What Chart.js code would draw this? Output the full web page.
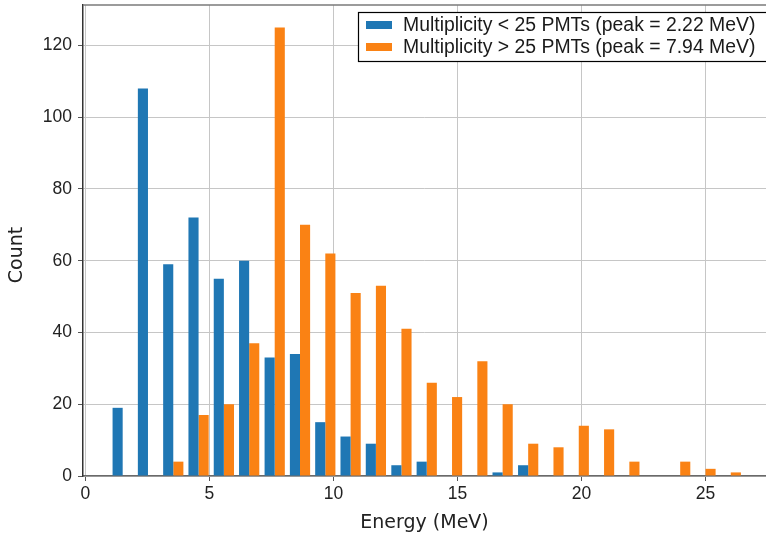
<!DOCTYPE html>
<html>
<head>
<meta charset="utf-8">
<title>Energy spectrum by multiplicity</title>
<script src="https://cdn.jsdelivr.net/npm/chart.js@4/dist/chart.umd.min.js"></script>
<style>
  html, body { margin: 0; padding: 0; background: #fff; overflow: hidden; }
  canvas { display: block; }
</style>
</head>
<body>
<canvas id="myChart" width="766" height="537"></canvas>
<script>
// histogram bins (MeV) and counts per bin
const binCenters = [1.50, 2.52, 3.54, 4.56, 5.58, 6.60, 7.63, 8.65, 9.67, 10.69, 11.71, 12.74,
  13.76, 14.78, 15.80, 16.82, 17.85, 18.87, 19.89, 20.91, 21.93, 22.95, 23.98, 25.00, 26.02];
const lowMultCounts = [19, 108, 59, 72, 55, 60, 33, 34, 15, 11, 9, 3, 4, 0, 0, 1, 3, 0, 0, 0, 0, 0, 0, 0, 0];
const highMultCounts = [0, 0, 4, 17, 20, 37, 125, 70, 62, 51, 53, 41, 26, 22, 32, 20, 9, 8, 14, 13, 4, 0, 4, 2, 1];
const seriesLabels = [
  "Multiplicity < 25 PMTs (peak = 2.22 MeV)",
  "Multiplicity > 25 PMTs (peak = 7.94 MeV)",
];
const xTitle = "Energy (MeV)";
const yTitle = "Count";

const tickFont = { family: "'Liberation Sans', Arial, sans-serif", size: 17.5 };
const titleFont = { family: "'DejaVu Sans', sans-serif", size: 19, lineHeight: 1.2 };

// top spine, y title and the boxed legend in the top right corner
const boxLegend = {
  id: "boxLegend",
  afterDraw(chart) {
    const ctx = chart.ctx;
    const area = chart.chartArea;
    ctx.save();
    ctx.strokeStyle = "#7a7a7a";
    ctx.lineWidth = 1.5;
    ctx.beginPath();
    ctx.moveTo(area.left, area.top);
    ctx.lineTo(area.right, area.top);
    ctx.stroke();

    ctx.save();
    ctx.translate(17, 255);
    ctx.rotate(-Math.PI / 2);
    ctx.font = "19px 'DejaVu Sans', sans-serif";
    ctx.fillStyle = "#222";
    ctx.textAlign = "center";
    ctx.textBaseline = "middle";
    ctx.fillText(yTitle, 0, 0);
    ctx.restore();

    const x = 358, y = 12, w = 420, h = 49;
    ctx.fillStyle = "#fff";
    ctx.fillRect(x, y, w, h);
    ctx.strokeStyle = "#000";
    ctx.lineWidth = 1.2;
    ctx.strokeRect(x + 0.5, y + 0.5, w, h);
    ctx.font = "19.4px 'Liberation Sans', Arial, sans-serif";
    ctx.textBaseline = "middle";
    chart.data.datasets.forEach((ds, i) => {
      const rowY = y + 13 + i * 22;
      ctx.fillStyle = ds.backgroundColor;
      ctx.fillRect(x + 8, rowY - 4, 26, 8);
      ctx.fillStyle = "#1a1a1a";
      ctx.fillText(ds.label, x + 45, rowY + 1);
    });
    ctx.restore();
  },
};

const ctx = document.getElementById("myChart").getContext("2d");
const myChart = new Chart(ctx, {
  type: "bar",
  data: {
    labels: binCenters,
    datasets: [
      {
        label: seriesLabels[0],
        data: lowMultCounts,
        backgroundColor: "#1f77b4",
        borderWidth: 0,
        categoryPercentage: 0.8,
        barPercentage: 1.0,
      },
      {
        label: seriesLabels[1],
        data: highMultCounts,
        backgroundColor: "#fa8214",
        borderWidth: 0,
        categoryPercentage: 0.8,
        barPercentage: 1.0,
      },
    ],
  },
  options: {
    responsive: false,
    animation: false,
    layout: { padding: { left: 0, top: 5, right: 0, bottom: 0 } },
    plugins: {
      legend: { display: false },
      tooltip: { enabled: false },
    },
    scales: {
      x: {
        type: "linear",
        min: -0.1,
        max: 27.44,
        offset: false,
        afterFit: (scale) => {
          scale.height = 61;
          scale.paddingLeft = 0;
          scale.paddingRight = 0;
        },
        ticks: {
          stepSize: 5,
          includeBounds: false,
          font: tickFont,
          color: "#222",
          padding: 3,
          maxRotation: 0,
        },
        grid: {
          offset: false,
          color: "#c6c6c6",
          lineWidth: 1,
          tickLength: 5,
          tickColor: "#555",
        },
        border: { color: "#6a6a6a", width: 1.5 },
        title: {
          display: true,
          text: xTitle,
          font: titleFont,
          color: "#222",
          padding: { top: 0, bottom: 3 },
        },
      },
      y: {
        min: 0,
        max: 131.25,
        afterFit: (scale) => {
          scale.width = 83;
          scale.paddingTop = 0;
          scale.paddingBottom = 0;
        },
        ticks: {
          stepSize: 20,
          includeBounds: false,
          font: tickFont,
          color: "#222",
          padding: 6,
        },
        grid: {
          color: "#c6c6c6",
          lineWidth: 1,
          tickLength: 5,
          tickColor: "#555",
        },
        border: { color: "#333", width: 1.5 },
      },
    },
  },
  plugins: [boxLegend],
});
</script>
</body>
</html>
